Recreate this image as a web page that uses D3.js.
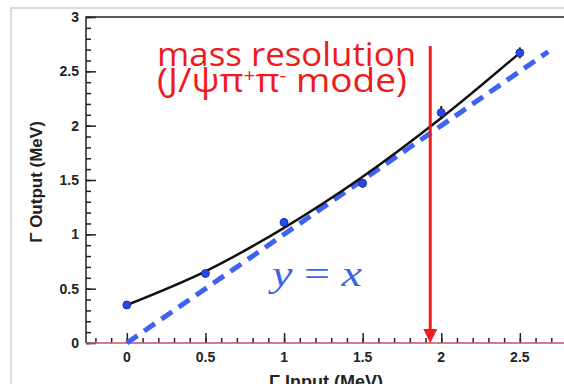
<!DOCTYPE html>
<html>
<head>
<meta charset="utf-8">
<script src="https://cdn.jsdelivr.net/npm/d3@7"></script>
<style>
  body { margin: 0; background: #fff; }
  svg { display: block; }
</style>
</head>
<body>
<div id="chart"></div>
<script>
// measured points (Gamma input vs Gamma output, MeV)
var inputW = [0, 0.5, 1, 1.5, 2, 2.5];
var outputW = [0.35, 0.64, 1.11, 1.47, 2.12, 2.67];
var outputErr = [0.03, 0.03, 0.04, 0.04, 0.06, 0.05];
// fit curve
var fitX = [0, 0.5, 1, 1.5, 2, 2.5];
var fitY = [0.35, 0.66, 1.06, 1.53, 2.07, 2.67];
// y = x reference
var diagX = [0, 2.68];
var xTicks = [0, 0.5, 1, 1.5, 2, 2.5];
var yTicks = [0, 0.5, 1, 1.5, 2, 2.5, 3];
var arrowAt = 1.93;

var width = 564, height = 384;

var svg = d3.select('#chart').append('svg')
    .attr('width', width)
    .attr('height', height)

var xScale = d3.scaleLinear()
    .domain([-0.26, 2.8])
    .range([86, 567]);

var yScale = d3.scaleLinear()
    .domain([0, 3])
    .range([343, 17]);

// light outer frame
svg.append('rect')
    .attr('x', 11).attr('y', 8)
    .attr('width', 600).attr('height', 400)
    .style('fill', 'none')
    .style('stroke', '#d0d0d0')
    .style('stroke-width', 1.5)

// plot frame (left + top)
svg.append('path')
    .attr('d', 'M' + xScale.range()[0] + ',' + yScale(0) + 'V' + yScale(3) + 'H' + 570)
    .style('fill', 'none')
    .style('stroke', '#222')
    .style('stroke-width', 1.5)

// axes with inward ticks
var yAxis = d3.axisRight(yScale).tickValues(yTicks).tickSize(10).tickFormat('');
var yMinor = d3.axisRight(yScale).tickValues(d3.range(0, 3.001, 0.1)).tickSize(5).tickFormat('');
var xAxis = d3.axisTop(xScale).tickValues(xTicks).tickSize(10).tickFormat('');
var xMinor = d3.axisTop(xScale).tickValues(d3.range(-0.2, 2.801, 0.1)).tickSize(5).tickFormat('');

[yAxis, yMinor].forEach(function(a) {
  svg.append('g')
    .attr('transform', 'translate(' + xScale.range()[0] + ',0)')
    .call(a)
    .call(function(g) { g.select('.domain').remove(); })
    .selectAll('line').style('stroke', '#222').style('stroke-width', 1.5);
});
[xAxis, xMinor].forEach(function(a) {
  svg.append('g')
    .attr('transform', 'translate(0,' + yScale(0) + ')')
    .call(a)
    .call(function(g) { g.select('.domain').remove(); })
    .selectAll('line').style('stroke', '#222').style('stroke-width', 1.5);
});

svg.append('line')
    .attr('x1', xScale.range()[0]).attr('x2', 570)
    .attr('y1', yScale(0)).attr('y2', yScale(0))
    .style('stroke', '#c8506e')
    .style('stroke-width', 1.5)

// tick labels
svg.selectAll('.ylab')
    .data(yTicks)
    .enter().append('text')
    .attr('x', 79)
    .attr('y', function(d) { return yScale(d) + 5; })
    .attr('text-anchor', 'end')
    .style('font', 'bold 14px "Liberation Sans", Arial, sans-serif')
    .style('fill', '#222')
    .text(function(d) { return d; });

svg.selectAll('.xlab')
    .data(xTicks)
    .enter().append('text')
    .attr('x', function(d) { return xScale(d); })
    .attr('y', 362)
    .attr('text-anchor', 'middle')
    .style('font', 'bold 14px "Liberation Sans", Arial, sans-serif')
    .style('fill', '#222')
    .text(function(d) { return d; });

// axis titles
svg.append('text')
    .attr('text-anchor', 'middle')
    .attr('transform', 'translate(42,182)rotate(-90)')
    .style('font', 'bold 17px "Liberation Sans", Arial, sans-serif')
    .style('fill', '#222')
    .text('\u0393 Output (MeV)');

svg.append('text')
    .attr('text-anchor', 'middle')
    .attr('x', 326)
    .attr('y', 388)
    .style('font', 'bold 18px "Liberation Sans", Arial, sans-serif')
    .style('fill', '#222')
    .text('\u0393 Input (MeV)');

// y = x dashed line
svg.append('line')
    .attr('x1', xScale(diagX[0])).attr('y1', yScale(diagX[0]))
    .attr('x2', xScale(diagX[1])).attr('y2', yScale(diagX[1]))
    .style('stroke', '#3d63f0')
    .style('stroke-width', 5)
    .style('stroke-dasharray', '13,8')

// fit curve
var fitLine = d3.line()
    .x(function(d) { return xScale(d[0]); })
    .y(function(d) { return yScale(d[1]); })
    .curve(d3.curveCatmullRom);

svg.append('path')
    .datum(d3.zip(fitX, fitY))
    .attr('d', fitLine)
    .style('fill', 'none')
    .style('stroke', '#111')
    .style('stroke-width', 2.5)

// data points with error bars
var pts = d3.zip(inputW, outputW, outputErr);
svg.selectAll('.err')
    .data(pts)
    .enter().append('line')
    .attr('x1', function(d) { return xScale(d[0]); })
    .attr('x2', function(d) { return xScale(d[0]); })
    .attr('y1', function(d) { return yScale(d[1] - d[2]); })
    .attr('y2', function(d) { return yScale(d[1] + d[2]); })
    .style('stroke', '#111')
    .style('stroke-width', 2)

svg.selectAll('.dot')
    .data(pts)
    .enter().append('circle')
    .attr('cx', function(d) { return xScale(d[0]); })
    .attr('cy', function(d) { return yScale(d[1]); })
    .attr('r', 4)
    .style('fill', '#2747f0')
    .style('stroke', '#1a2a80')
    .style('stroke-width', 0.8)

// y = x label
var lab = svg.append('text')
    .attr('x', 272)
    .attr('y', 286)
    .attr('textLength', 90)
    .attr('lengthAdjust', 'spacingAndGlyphs')
    .style('font', '36px "Liberation Serif", "DejaVu Serif", serif')
    .style('fill', '#3d63e8');
lab.append('tspan').style('font-style', 'italic').text('y');
lab.append('tspan').text(' = ');
lab.append('tspan').style('font-style', 'italic').text('x');

// red arrow
svg.append('line')
    .attr('x1', xScale(arrowAt)).attr('x2', xScale(arrowAt))
    .attr('y1', 46).attr('y2', yScale(0) - 12)
    .style('stroke', '#ee1c1c')
    .style('stroke-width', 3)

svg.append('path')
    .attr('d', 'M' + (xScale(arrowAt) - 7) + ',' + (yScale(0) - 14) +
               'L' + (xScale(arrowAt) + 7) + ',' + (yScale(0) - 14) +
               'L' + xScale(arrowAt) + ',' + yScale(0) + 'Z')
    .style('fill', '#ee1c1c')

// annotation
svg.append('text')
    .attr('x', 157)
    .attr('y', 66)
    .attr('textLength', 259)
    .attr('lengthAdjust', 'spacingAndGlyphs')
    .style('font', '32px "Open Sans", "Noto Sans", sans-serif')
    .style('fill', '#f01a1a')
    .text('mass resolution');

var note2 = svg.append('text')
    .attr('x', 157)
    .attr('y', 92)
    .attr('textLength', 250)
    .attr('lengthAdjust', 'spacingAndGlyphs')
    .style('font', '32px "Open Sans", "Noto Sans", sans-serif')
    .style('fill', '#f01a1a');
note2.append('tspan').text('(J/\u03c8\u03c0');
note2.append('tspan').attr('dy', -10).style('font-size', '18px').text('+');
note2.append('tspan').attr('dy', 10).text('\u03c0');
note2.append('tspan').attr('dy', -10).style('font-size', '18px').text('-');
note2.append('tspan').attr('dy', 10).text(' mode)');
</script>
</body>
</html>
